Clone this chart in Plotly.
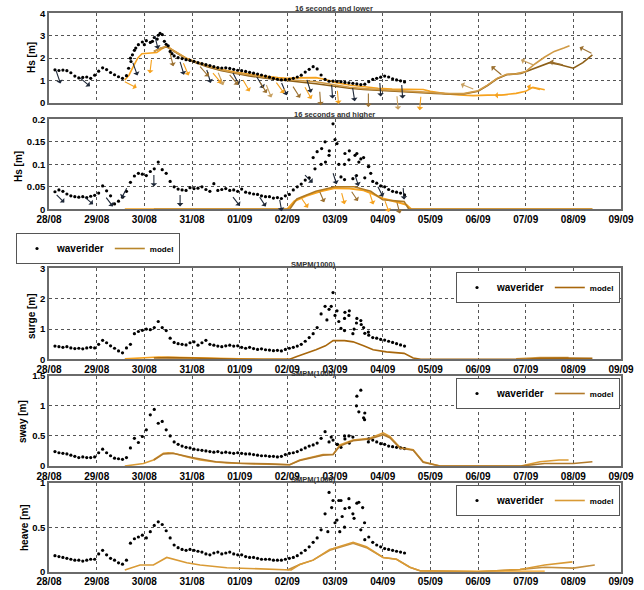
import numpy as np
import pandas as pd
import plotly.graph_objects as go

T0 = pd.Timestamp("2013-08-28 00:00")

def t(days):
    return [T0 + pd.to_timedelta(d, unit="D") for d in days]

# ---------------- waverider (2-hourly, 28/08 03:00 ... 04/09 11:00) ----------------
wr_time = pd.date_range("2013-08-28 03:00", periods=89, freq="2h")

hs_low_wr = [1.48, 1.45, 1.47, 1.44, 1.35, 1.20,
             1.12, 1.14, 1.16, 1.10, 1.24, 1.42,
             1.57, 1.49, 1.36, 1.26, 1.17, 1.10,
             1.22, 2.00, 2.35, 2.60, 2.72, 2.78,
             2.70, 2.92, 3.02, 3.05, 2.62, 2.30,
             2.10, 2.02, 1.98, 1.93, 1.90, 1.86,
             1.80, 1.76, 1.71, 1.67, 1.62, 1.58,
             1.56, 1.57, 1.54, 1.50, 1.46, 1.44,
             1.41, 1.37, 1.33, 1.29, 1.25, 1.20,
             1.15, 1.10, 1.06, 1.03, 1.04, 1.06,
             1.10, 1.16, 1.24, 1.38, 1.50, 1.62,
             1.52, 1.25, 1.05, 0.97, 0.98, 0.96,
             0.95, 0.92, 0.90, 0.88, 0.85, 0.82,
             0.84, 0.95, 1.05, 1.10, 1.15, 1.20,
             1.16, 1.08, 1.03, 0.99, 0.94]
hs_high_wr = [0.039, 0.043, 0.040, 0.034, 0.030, 0.028,
              0.027, 0.028, 0.026, 0.029, 0.031, 0.036,
              0.052, 0.041, 0.030, 0.012, 0.018, 0.027,
              0.040, 0.060, 0.074, 0.080, 0.078, 0.075,
              0.084, 0.090, 0.105, 0.088, 0.080, 0.062,
              0.050, 0.045, 0.043, 0.042, 0.048, 0.046,
              0.047, 0.050, 0.044, 0.040, 0.057, 0.042,
              0.044, 0.046, 0.042, 0.043, 0.040, 0.045,
              0.038, 0.036, 0.034, 0.033, 0.030, 0.028,
              0.028, 0.025, 0.026, 0.024, 0.030, 0.033,
              0.043, 0.050, 0.056, 0.065, 0.070, 0.115,
              0.128, 0.100, 0.150, 0.120, 0.190, 0.146,
              0.072, 0.124, 0.110, 0.068, 0.124, 0.112,
              0.070, 0.095, 0.062, 0.058, 0.052, 0.050,
              0.044, 0.040, 0.038, 0.036, 0.032]
surge_wr = [0.44, 0.42, 0.40, 0.42, 0.38, 0.36,
            0.37, 0.35, 0.38, 0.40, 0.38, 0.50,
            0.63, 0.55, 0.45, 0.37, 0.28, 0.22,
            0.38, 0.50, 0.85, 0.92, 0.96, 1.00,
            0.98, 1.05, 1.25, 1.05, 0.95, 0.70,
            0.56, 0.52, 0.50, 0.48, 0.55, 0.58,
            0.47, 0.55, 0.63, 0.50, 0.47, 0.44,
            0.42, 0.45, 0.47, 0.44, 0.45, 0.40,
            0.37, 0.40, 0.36, 0.33, 0.35, 0.32,
            0.31, 0.29, 0.30, 0.28, 0.33, 0.37,
            0.40, 0.44, 0.50, 0.60, 0.72, 0.85,
            1.05, 1.50, 1.75, 1.65, 2.20, 1.60,
            1.02, 1.55, 1.45, 0.85, 1.35, 1.28,
            0.86, 0.80, 0.72, 0.70, 0.66, 0.64,
            0.60, 0.56, 0.52, 0.48, 0.44]
sway_wr = [0.24, 0.22, 0.21, 0.20, 0.18, 0.16,
           0.14, 0.15, 0.14, 0.14, 0.15, 0.22,
           0.28, 0.22, 0.17, 0.13, 0.12, 0.11,
           0.14, 0.30, 0.46, 0.39, 0.49, 0.60,
           0.85, 0.94, 0.71, 0.74, 0.60, 0.50,
           0.40, 0.36, 0.33, 0.31, 0.30, 0.28,
           0.27, 0.26, 0.25, 0.24, 0.23, 0.24,
           0.22, 0.23, 0.22, 0.21, 0.22, 0.21,
           0.20, 0.20, 0.19, 0.18, 0.17, 0.17,
           0.16, 0.16, 0.15, 0.16, 0.19, 0.21,
           0.22, 0.24, 0.27, 0.30, 0.33, 0.35,
           0.38, 0.46, 0.57, 0.40, 0.43, 0.36,
           0.31, 0.45, 0.50, 0.48, 1.16, 1.26,
           0.88, 0.45, 0.43, 0.40, 0.37, 0.36,
           0.33, 0.32, 0.31, 0.30, 0.29]
heave_wr = [0.18, 0.17, 0.16, 0.15, 0.14, 0.13,
            0.13, 0.12, 0.13, 0.14, 0.14, 0.20,
            0.24, 0.19, 0.15, 0.13, 0.10, 0.085,
            0.13, 0.32, 0.37, 0.39, 0.41, 0.38,
            0.45, 0.52, 0.56, 0.53, 0.46, 0.38,
            0.30, 0.27, 0.25, 0.24, 0.25, 0.24,
            0.23, 0.22, 0.20, 0.19, 0.21, 0.22,
            0.20, 0.21, 0.22, 0.20, 0.19, 0.19,
            0.17, 0.16, 0.16, 0.15, 0.14, 0.14,
            0.14, 0.13, 0.13, 0.13, 0.14, 0.15,
            0.16, 0.18, 0.21, 0.24, 0.28, 0.33,
            0.38, 0.47, 0.65, 0.89, 0.80, 0.58,
            0.80, 0.71, 0.82, 0.65, 0.77, 0.47,
            0.36, 0.39, 0.33, 0.30, 0.28, 0.26,
            0.25, 0.24, 0.23, 0.22, 0.21]

# additional scattered waverider samples (days after 28/08 00:00)
p1_extra_day = [1.67, 1.72, 1.75, 1.82, 2.00, 2.17, 2.27, 2.33, 2.42, 2.50, 2.58]
p1_extra_val = [1.55, 1.85, 2.15, 2.45, 2.60, 2.75, 2.85, 3.10, 2.75, 2.55, 2.20]
p2_extra_day = [5.58, 5.72, 5.80, 5.88, 6.00, 6.08, 6.20, 6.30, 6.42, 6.50, 6.60, 6.70, 6.20, 6.45, 6.75]
p2_extra_val = [0.090, 0.135, 0.105, 0.130, 0.155, 0.100, 0.100, 0.130, 0.120, 0.105, 0.115, 0.095, 0.066, 0.075, 0.080]
p3_extra_day = [5.83, 5.92, 6.00, 6.08, 6.20, 6.30, 6.45, 6.55, 6.60, 6.20, 6.40, 6.70]
p3_extra_val = [1.30, 1.75, 1.45, 1.25, 1.35, 1.60, 1.20, 1.15, 1.05, 0.95, 1.00, 0.90]
p4_extra_day = [6.45, 6.50, 6.60, 6.62, 5.92, 6.05, 6.20, 6.30, 6.70]
p4_extra_val = [1.00, 0.90, 0.80, 0.77, 0.48, 0.36, 0.50, 0.38, 0.40]
p5_extra_day = [5.85, 5.93, 6.00, 6.08, 6.15, 6.20, 6.30, 6.40, 6.50, 6.58, 6.62, 6.10]
p5_extra_val = [0.45, 0.72, 0.55, 0.80, 0.62, 0.50, 0.72, 0.60, 0.78, 0.72, 0.55, 0.45]

# ---------------- model runs (days after 28/08 00:00) ----------------
p1_orange_day = [1.59, 1.68, 1.77, 1.86, 1.95, 2.10, 2.26, 2.36, 2.47, 2.60, 2.75, 2.90, 3.10, 3.30,
                 3.60, 3.90, 4.20, 4.50, 4.80, 5.00, 5.20, 5.40, 5.60, 5.80, 6.00, 6.30, 6.60, 6.90,
                 7.20, 7.50, 7.70, 7.85, 8.00, 8.30, 8.60, 8.90, 9.20, 9.50, 9.80, 10.00, 10.15, 10.40]
p1_orange_hs = [1.03, 1.25, 1.63, 2.00, 2.20, 2.22, 2.25, 2.40, 2.55, 2.35, 2.15, 1.98, 1.82, 1.68,
                1.50, 1.38, 1.28, 1.20, 1.13, 1.10, 1.12, 1.14, 1.13, 1.05, 0.92, 0.80, 0.72, 0.66,
                0.62, 0.60, 0.62, 0.60, 0.52, 0.42, 0.36, 0.33, 0.35, 0.36, 0.43, 0.52, 0.70, 0.59]
p1_tan_day = [2.20, 2.35, 2.47, 2.60, 2.75, 2.90, 3.10, 3.30, 3.60, 3.90, 4.20, 4.50, 4.80, 5.00,
              5.20, 5.40, 5.60, 5.80, 6.00, 6.30, 6.60, 6.90, 7.20, 7.50, 7.80, 8.10, 8.40, 8.70,
              9.00, 9.20, 9.40, 9.60, 9.80, 10.00, 10.20, 10.40, 10.60, 10.80, 10.92]
p1_tan_hs = [2.30, 2.45, 2.52, 2.35, 2.15, 1.96, 1.80, 1.66, 1.48, 1.35, 1.24, 1.15, 1.07, 1.03,
             1.00, 0.98, 0.95, 0.88, 0.80, 0.70, 0.64, 0.60, 0.56, 0.52, 0.48, 0.44, 0.42, 0.42,
             0.55, 0.80, 1.10, 1.28, 1.30, 1.40, 1.75, 2.05, 2.30, 2.45, 2.55]
p1_brown_day = [2.20, 2.35, 2.47, 2.60, 2.75, 2.90, 3.10, 3.30, 3.60, 3.90, 4.20, 4.50, 4.80, 5.00,
                5.20, 5.40, 5.60, 5.80, 6.00, 6.30, 6.60, 6.90, 7.20, 7.50, 7.80, 8.10, 8.40, 8.70,
                9.00, 9.20, 9.40, 9.60, 9.90, 10.20, 10.50, 10.70, 11.00, 11.20, 11.40]
p1_brown_hs = [2.30, 2.45, 2.50, 2.33, 2.12, 1.94, 1.78, 1.63, 1.45, 1.32, 1.21, 1.12, 1.04, 0.99,
               0.95, 0.90, 0.86, 0.80, 0.74, 0.66, 0.60, 0.56, 0.52, 0.49, 0.46, 0.43, 0.40, 0.40,
               0.52, 0.78, 1.08, 1.26, 1.32, 1.55, 1.80, 1.72, 1.55, 1.80, 2.15]

p2_orange_day = [1.59, 5.00, 5.15, 5.40, 5.70, 6.00, 6.30, 6.60, 6.80, 7.00, 7.30, 7.50, 7.60, 11.40]
p2_orange_hs = [0, 0, 0.018, 0.030, 0.040, 0.047, 0.046, 0.042, 0.034, 0.024, 0.016, 0.010, 0, 0]
p2_brown_day = [2.20, 5.05, 5.20, 5.60, 6.00, 6.40, 6.75, 7.00, 7.45, 7.55, 11.40]
p2_brown_hs = [0, 0, 0.023, 0.040, 0.050, 0.050, 0.040, 0.021, 0.017, 0, 0]

p3_orange_day = [1.59, 1.80, 2.00, 2.30, 2.60, 3.00, 3.50, 4.00, 4.50, 5.10]
p3_orange_v = [0.02, 0.04, 0.06, 0.08, 0.07, 0.05, 0.03, 0.02, 0.01, 0.01]
p3_brown_day = [2.20, 2.50, 3.00, 3.50, 4.00, 4.50, 5.05, 5.20, 5.40, 5.60, 5.80, 5.96, 6.20, 6.38,
                6.60, 6.80, 7.08, 7.30, 7.45, 7.64, 7.80, 10.00, 10.30, 10.80, 11.40]
p3_brown_v = [0.05, 0.06, 0.05, 0.02, 0.01, 0.01, 0.01, 0.10, 0.20, 0.32, 0.45, 0.62, 0.62, 0.58,
              0.45, 0.32, 0.25, 0.22, 0.20, 0.05, 0.01, 0.01, 0.04, 0.05, 0.04]
p3_tan_day = [9.80, 10.30, 10.90]
p3_tan_v = [0.02, 0.06, 0.06]

p4_a_day = [1.59, 1.75, 1.98, 2.19, 2.40, 2.50, 2.61, 2.90, 3.17, 3.45, 3.73, 4.10, 4.56, 5.05, 5.26,
            5.54, 5.75, 5.96, 6.10, 6.38, 6.73, 7.01, 7.15, 7.36, 7.64, 7.85, 8.20, 9.90, 10.30, 10.70, 10.90]
p4_a_v = [0.00, 0.02, 0.04, 0.10, 0.21, 0.22, 0.21, 0.15, 0.10, 0.07, 0.05, 0.04, 0.035, 0.02, 0.10,
          0.15, 0.19, 0.19, 0.35, 0.43, 0.46, 0.55, 0.49, 0.31, 0.27, 0.07, 0.00, 0.00, 0.07, 0.10, 0.10]
p4_b_day = [2.20, 2.40, 2.60, 3.00, 3.50, 4.00, 4.60, 5.05, 5.26, 5.54, 5.75, 5.96, 6.10, 6.38, 6.73,
            7.01, 7.15, 7.36, 7.64, 7.85, 8.20, 9.90, 10.40, 11.00, 11.40]
p4_b_v = [0.10, 0.20, 0.21, 0.14, 0.07, 0.045, 0.035, 0.02, 0.09, 0.14, 0.18, 0.19, 0.33, 0.42, 0.45,
          0.52, 0.47, 0.30, 0.26, 0.06, 0.00, 0.00, 0.04, 0.04, 0.07]

p5_a_day = [1.59, 1.91, 2.19, 2.47, 2.89, 3.17, 3.73, 4.56, 5.08, 5.26, 5.54, 5.89, 5.96, 6.38, 6.66,
            7.01, 7.29, 7.57, 7.78, 9.00, 9.88, 10.40, 10.98]
p5_a_v = [0.02, 0.075, 0.075, 0.16, 0.10, 0.075, 0.045, 0.025, 0.02, 0.08, 0.13, 0.25, 0.26, 0.33, 0.28,
          0.16, 0.14, 0.05, 0.01, 0.00, 0.025, 0.075, 0.11]
p5_b_day = [5.00, 5.26, 5.54, 5.89, 6.38, 6.66, 7.01, 7.29, 7.57, 7.78, 9.00, 9.88, 10.40, 11.00, 11.45]
p5_b_v = [0.02, 0.08, 0.13, 0.24, 0.32, 0.27, 0.16, 0.14, 0.05, 0.01, 0.00, 0.025, 0.05, 0.04, 0.075]
p5_c_day = [7.78, 10.40]
p5_c_v = [0.005, 0.005]

# ---------------- wave-direction arrows (day, value, direction deg clockwise from up) ----------------
p1_wr_arrow_day = [0.15, 0.65, 1.76, 2.22, 2.75, 3.31, 3.86, 4.36, 4.88, 5.41, 5.93, 6.37, 6.94, 7.40]
p1_wr_arrow_val = [1.43, 1.12, 1.79, 2.99, 1.83, 1.47, 1.34, 1.16, 0.89, 1.03, 0.80, 0.67, 0.89, 0.80]
p1_wr_arrow_dir = [161, 130, 160, 166, 163, 163, 153, 149, 157, 162, 176, 171, 176, 176]
p1_or_arrow_day = [1.59, 2.15, 2.82, 3.44, 4.07, 4.77, 5.37, 6.05, 7.80, 9.63, 10.30]
p1_or_arrow_val = [0.95, 1.92, 1.77, 1.33, 1.03, 0.91, 0.70, 0.55, 0.28, 0.37, 0.59]
p1_or_arrow_dir = [117, 187, 157, 140, 150, 144, 151, 175, 185, 267, 285]
p1_br_arrow_day = [2.54, 3.17, 3.79, 4.42, 5.12, 5.68, 6.70, 9.49, 10.78, 11.38]
p1_br_arrow_val = [2.22, 1.62, 1.25, 0.95, 0.73, 0.50, 0.42, 1.26, 1.70, 2.22]
p1_br_arrow_dir = [166, 139, 140, 148, 148, 176, 180, 310, 284, 297]
p1_tn_arrow_day = [3.55, 4.56, 7.30, 8.90, 10.16]
p1_tn_arrow_val = [1.35, 0.80, 0.30, 0.62, 1.70]
p1_tn_arrow_dir = [158, 158, 175, 292, 293]

p2_wr_arrow_day = [0.16, 0.75, 1.20, 1.63, 2.20, 2.75, 3.86, 4.42, 4.84, 5.37, 5.96, 6.42, 6.90, 7.43]
p2_wr_arrow_val = [0.032, 0.027, 0.026, 0.047, 0.076, 0.032, 0.027, 0.027, 0.021, 0.076, 0.080, 0.076, 0.050, 0.047]
p2_wr_arrow_dir = [135, 131, 143, 207, 180, 180, 142, 147, 170, 135, 162, 162, 153, 175]
p2_or_arrow_day = [5.30, 6.14, 6.73, 7.05]
p2_or_arrow_val = [0.024, 0.036, 0.035, 0.018]
p2_or_arrow_dir = [145, 165, 162, 160]
p2_br_arrow_day = [5.68, 6.35, 7.30]
p2_br_arrow_val = [0.039, 0.039, 0.015]
p2_br_arrow_dir = [157, 146, 165]

# ---------------- styling ----------------
C_OR = "#f6a21e"
C_TN = "#d09a45"
C_BR = "#8d5f17"
C_AR = "#1e2838"
FONT = "Arial, Liberation Sans, sans-serif"

fig = go.Figure()

def line(days, vals, color, xa, ya, name="model", show=False, legend="legend", width=1.6):
    fig.add_trace(go.Scatter(x=t(days), y=vals, mode="lines", line=dict(color=color, width=width),
                             name=name, showlegend=show, legend=legend, xaxis=xa, yaxis=ya,
                             hoverinfo="skip"))

def dots(vals, extra_day, extra_val, xa, ya, show=False, legend="legend"):
    xs = list(wr_time) + t(extra_day)
    ys = list(vals) + list(extra_val)
    fig.add_trace(go.Scatter(x=xs, y=ys, mode="markers",
                             marker=dict(color="black", size=3.2, line=dict(width=0)),
                             name="<b>waverider</b>", showlegend=show, legend=legend,
                             xaxis=xa, yaxis=ya))

MODEL_NAME = "<span style='font-size:8px'><b>model</b></span>"

# panel 1
line(p1_orange_day, p1_orange_hs, C_OR, "x", "y")
line(p1_brown_day, p1_brown_hs, C_BR, "x", "y")
line(p1_tan_day, p1_tan_hs, C_TN, "x", "y")
dots(hs_low_wr, p1_extra_day, p1_extra_val, "x", "y", show=True, legend="legend")
fig.add_trace(go.Scatter(x=[None], y=[None], mode="lines", line=dict(color="#b8862b", width=1.6),
                         name=MODEL_NAME, showlegend=True, legend="legend", xaxis="x", yaxis="y"))
# panel 2
line(p2_orange_day, p2_orange_hs, C_OR, "x2", "y2", width=2)
line(p2_brown_day, p2_brown_hs, "#b07a22", "x2", "y2", width=1.6)
dots(hs_high_wr, p2_extra_day, p2_extra_val, "x2", "y2")
# panel 3
line(p3_orange_day, p3_orange_v, C_OR, "x3", "y3")
line(p3_tan_day, p3_tan_v, C_TN, "x3", "y3")
dots(surge_wr, p3_extra_day, p3_extra_val, "x3", "y3", show=True, legend="legend2")
line(p3_brown_day, p3_brown_v, "#a8670c", "x3", "y3", name=MODEL_NAME, show=True, legend="legend2")
# panel 4
line(p4_a_day, p4_a_v, "#dc9c35", "x4", "y4")
dots(sway_wr, p4_extra_day, p4_extra_val, "x4", "y4", show=True, legend="legend3")
line(p4_b_day, p4_b_v, "#b27a2a", "x4", "y4", name=MODEL_NAME, show=True, legend="legend3")
# panel 5
line(p5_c_day, p5_c_v, C_OR, "x5", "y5")
line(p5_b_day, p5_b_v, "#c49040", "x5", "y5")
dots(heave_wr, p5_extra_day, p5_extra_val, "x5", "y5", show=True, legend="legend4")
line(p5_a_day, p5_a_v, "#d99a35", "x5", "y5", name=MODEL_NAME, show=True, legend="legend4")

# arrows
def arrows(days, vals, dirs, color, xref, yref, L):
    for d, v, a in zip(days, vals, dirs):
        r = np.deg2rad(a)
        fig.add_annotation(x=T0 + pd.to_timedelta(d, unit="D"), y=v, xref=xref, yref=yref,
                           ax=L * np.sin(r), ay=-L * np.cos(r), axref="pixel", ayref="pixel",
                           text="", font=dict(size=1), showarrow=True, arrowside="start",
                           arrowhead=2, arrowsize=0.9, arrowwidth=1.1, arrowcolor=color,
                           standoff=0, startstandoff=0)

arrows(p1_wr_arrow_day, p1_wr_arrow_val, p1_wr_arrow_dir, C_AR, "x", "y", 15)
arrows(p1_or_arrow_day, p1_or_arrow_val, p1_or_arrow_dir, C_OR, "x", "y", 15)
arrows(p1_br_arrow_day, p1_br_arrow_val, p1_br_arrow_dir, "#9b7030", "x", "y", 15)
arrows(p1_tn_arrow_day, p1_tn_arrow_val, p1_tn_arrow_dir, "#c8a060", "x", "y", 15)
arrows(p2_wr_arrow_day, p2_wr_arrow_val, p2_wr_arrow_dir, C_AR, "x2", "y2", 13)
arrows(p2_or_arrow_day, p2_or_arrow_val, p2_or_arrow_dir, C_OR, "x2", "y2", 13)
arrows(p2_br_arrow_day, p2_br_arrow_val, p2_br_arrow_dir, "#9b7030", "x2", "y2", 13)

# ---------------- axes ----------------
X_DOM = [0.0761, 0.9643]
x_ticks = list(pd.date_range("2013-08-28", "2013-09-09", freq="D"))
panels = [
    ("", [0.8254, 0.9775], [0, 4], [0, 1, 2, 3, 4], False),
    ("2", [0.6453, 0.7978], [0, 0.2], [0, 0.05, 0.1, 0.15, 0.2], True),
    ("3", [0.3907, 0.5453], [0, 3], [0, 1, 2, 3], True),
    ("4", [0.2102, 0.3632], [0, 1.5], [0, 0.5, 1, 1.5], True),
    ("5", [0.0310, 0.1819], [0, 1], [0, 0.5, 1], True),
]
grid = dict(showgrid=True, gridcolor="#555555", gridwidth=1, griddash="dot",
            showline=True, linecolor="#6a6a6a", linewidth=1.5, mirror=True,
            zeroline=False, ticks="", automargin=False)
for suf, dom, rng, tv, showx in panels:
    fig.update_layout(**{
        "xaxis" + suf: dict(domain=X_DOM, anchor="y" + suf, range=[x_ticks[0], x_ticks[-1]],
                            tickvals=x_ticks, tickformat="%d/%m", showticklabels=showx,
                            tickfont=dict(family=FONT, size=10, color="black", weight="bold"),
                            **grid),
        "yaxis" + suf: dict(domain=dom, anchor="x" + suf, range=rng, tickvals=tv,
                            tickfont=dict(family=FONT, size=9.5, color="black", weight="bold"),
                            **grid),
    })

# y-axis titles and panel titles
ytitles = [("Hs [m]", 31, 58), ("Hs [m]", 18, 167), ("surge [m]", 31, 316),
           ("sway [m]", 22, 422), ("heave [m]", 24, 528)]
for txt, px, py in ytitles:
    fig.add_annotation(text=txt, x=px / 644, y=1 - py / 590, xref="paper", yref="paper",
                       xanchor="center", yanchor="middle",
                       showarrow=False, textangle=-90,
                       font=dict(family=FONT, size=10, color="black", weight="bold"))
ptitles = [("16 seconds and lower", 334, 8), ("16 seconds and higher", 334, 114),
           ("SMPM(1000)", 313, 264), ("SMPM(1000)", 313, 373), ("SMPM(1000)", 313, 479)]
for txt, px, py in ptitles:
    fig.add_annotation(text=txt, x=px / 644, y=1 - py / 590, xref="paper", yref="paper",
                       xanchor="center", yanchor="middle",
                       showarrow=False, font=dict(family=FONT, size=7.5, color="#333333", weight="bold"))

leg = dict(orientation="h", bgcolor="white", bordercolor="#555555", borderwidth=1,
           font=dict(family=FONT, size=10, color="black", weight="bold"),
           itemwidth=30, tracegroupgap=0, yanchor="top")
fig.update_layout(
    width=644, height=590, margin=dict(l=0, r=0, t=0, b=0),
    paper_bgcolor="white", plot_bgcolor="white",
    legend=dict(leg, x=16 / 644, xanchor="left", y=1 - 233 / 590),
    legend2=dict(leg, x=620 / 644, xanchor="right", y=1 - 272 / 590),
    legend3=dict(leg, x=620 / 644, xanchor="right", y=1 - 378 / 590),
    legend4=dict(leg, x=620 / 644, xanchor="right", y=1 - 485 / 590),
    hovermode=False,
)

fig.write_html("out.html")
